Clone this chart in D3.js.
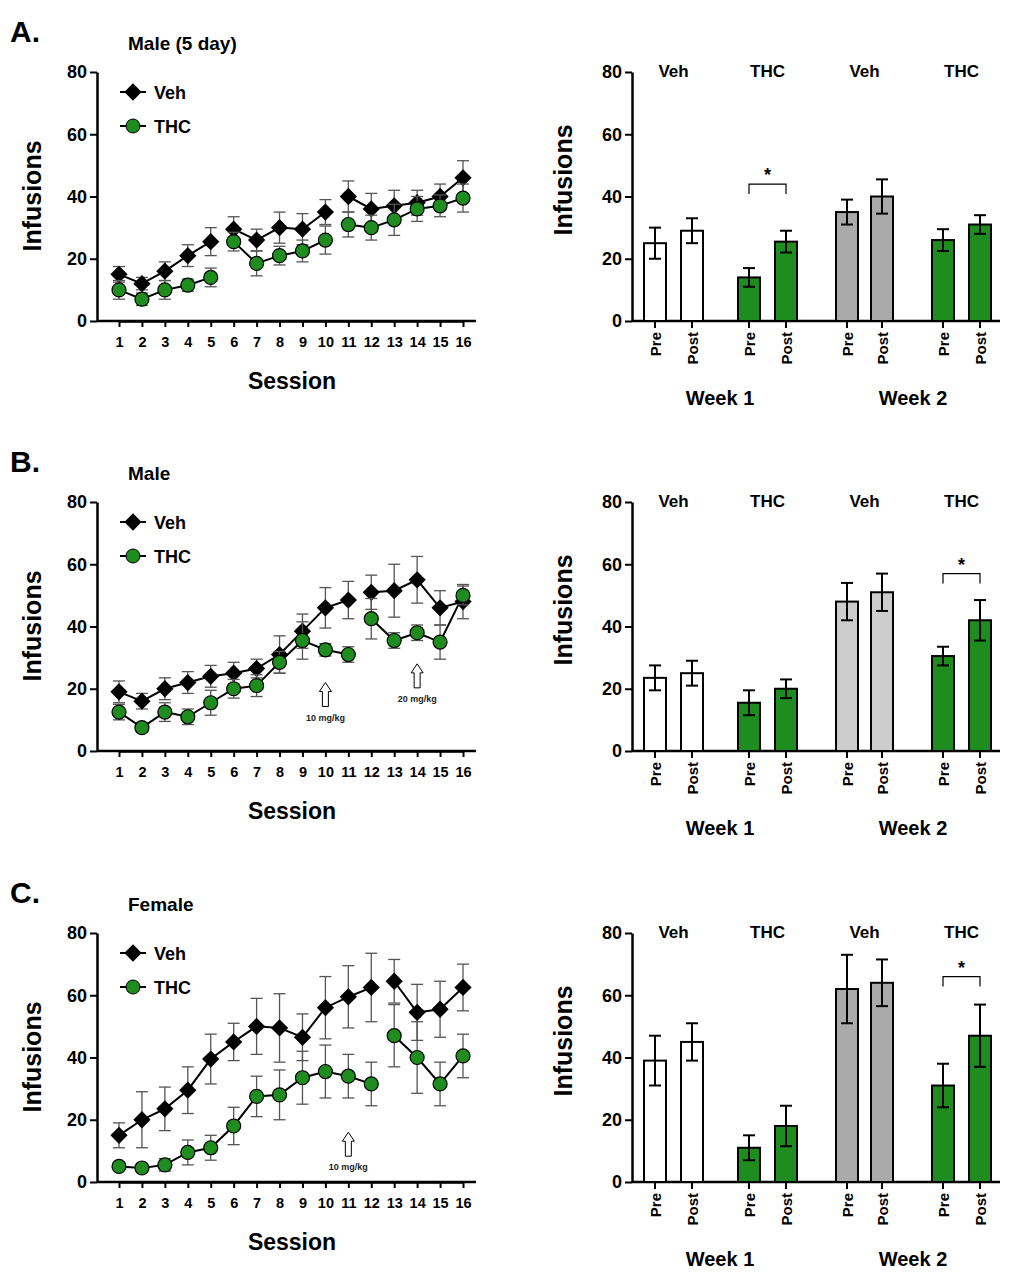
<!DOCTYPE html>
<html><head><meta charset="UTF-8"/>
<script src="https://d3js.org/d3.v7.min.js"></script>
<style>body{margin:0;background:#fff}text{font-family:Arial,"Liberation Sans",sans-serif;font-weight:bold}</style>
</head><body>
<script>
var sessions = d3.range(1, 17);
var yTicks = [0, 20, 40, 60, 80];
var barLabels = ["Pre", "Post", "Pre", "Post", "Pre", "Post", "Pre", "Post"];
var groupLabels = ["Veh", "THC", "Veh", "THC"];
var weekLabels = ["Week 1", "Week 2"];

// panel A (male 5 day)
var vehA = [15,12,16,21,25.5,29.5,26,30,29.5,35,40,36,37,38,40,46];
var vehAErr = [2.5,2,3,3.5,4.5,4,3.5,5,5,4,5,5,5,4,4,5.5];
var thcA = [10,7,10,11.5,14,25.5,18.5,21,22.5,26,31,30,32.5,36,37,39.5];
var thcAErr = [3,2,3,2,3,3,4,3,3.5,4.5,4,4,5,4,3.5,4.5];
var segA = [[1,5],[6,10],[11,16]];
var barA = [25,29,14,25.5,35,40,26,31];
var barAErr = [5,4,3,3.5,4,5.5,3.5,3];

// panel B (male)
var vehB = [19,16,20,22,24,25,26.5,31,38.5,46,48.5,51,51.5,55,46,48];
var vehBErr = [3.5,2.5,3.5,3.5,3.5,3.5,3,6,5.5,6.5,6,5.5,8.5,7.5,5.5,5.5];
var thcB = [12.5,7.5,12.5,11,15.5,20,21,28.5,35.5,32.5,31,42.5,35.5,38,35,50];
var thcBErr = [2.5,1.5,3,2.5,4,3,3.5,3.5,6,2,2.5,6.5,2.5,2.5,5.5,3];
var segB = [[1,11],[12,16]];
var barB = [23.5,25,15.5,20,48,51,30.5,42];
var barBErr = [4,4,4,3,6,6,3,6.5];

// panel C (female)
var vehC = [15,20,23.5,29.5,39.5,45,50,49.5,46.5,56,59.5,62.5,64.5,54.5,55.5,62.5];
var vehCErr = [4,9,7,7.5,8,6,9,11,7.5,10,10,11,7,9,9,7.5];
var thcC = [5,4.5,5.5,9.5,11,18,27.5,28,33.5,35.5,34,31.5,47,40,31.5,40.5];
var thcCErr = [1,1,2,4,4,6,6.5,8,8.5,8.5,7,7,10,11.5,7,7];
var segC = [[1,12],[13,16]];
var barC = [39,45,11,18,62,64,31,47];
var barCErr = [8,6,4,6.5,11,7.5,7,10];

var green = "#1e8c1e";
var svg = d3.select("body").append("svg").attr("width", 1018).attr("height", 1280);

function panel(dy, letter, title, veh, vehErr, thc, thcErr, segs, bars, barErr, grey, sig, arrows) {
  var g = svg.append("g").attr("transform", "translate(0," + dy + ")");
  var y = d3.scaleLinear().domain([0, 80]).range([321, 72]);
  var x = d3.scaleLinear().domain([1, 16]).range([119, 463]);

  g.append("text").attr("x", 10).attr("y", 42).attr("font-size", 30).text(letter);
  g.append("text").attr("x", 128).attr("y", 50).attr("font-size", 19).text(title);

  // left axes
  var ya = g.append("g").attr("transform", "translate(97,0)")
    .call(d3.axisLeft(y).tickValues(yTicks).tickSize(7).tickSizeOuter(0));
  var xa = g.append("g").attr("transform", "translate(0,321)")
    .call(d3.axisBottom(x).tickValues(sessions).tickSize(6).tickSizeOuter(0));
  g.append("line").attr("x1", 97).attr("x2", 476).attr("y1", 321).attr("y2", 321).attr("stroke", "#000").attr("stroke-width", 2.5);
  [ya, xa].forEach(function(a) {
    a.select(".domain").attr("stroke-width", 2.5);
    a.selectAll(".tick line").attr("stroke-width", 2);
  });
  ya.selectAll("text").attr("font-size", 18).attr("font-weight", "bold");
  xa.selectAll("text").attr("font-size", 14.5).attr("font-weight", "bold").attr("dy", "1.2em");
  g.append("text").attr("transform", "translate(41,196) rotate(-90)").attr("text-anchor", "middle").attr("font-size", 25).text("Infusions");
  g.append("text").attr("x", 292).attr("y", 389).attr("text-anchor", "middle").attr("font-size", 23).text("Session");

  function series(vals, errs, color, shape) {
    var line = d3.line().x(function(d) { return x(d); }).y(function(d) { return y(vals[d - 1]); });
    segs.forEach(function(s) {
      g.append("path").attr("d", line(d3.range(s[0], s[1] + 1))).attr("fill", "none").attr("stroke", "#000").attr("stroke-width", 2);
    });
    sessions.forEach(function(s, i) {
      var cx = x(s);
      g.append("line").attr("x1", cx).attr("x2", cx).attr("y1", y(vals[i] - errs[i])).attr("y2", y(vals[i] + errs[i])).attr("stroke", "#555").attr("stroke-width", 1.3);
      [vals[i] - errs[i], vals[i] + errs[i]].forEach(function(v) {
        g.append("line").attr("x1", cx - 6).attr("x2", cx + 6).attr("y1", y(v)).attr("y2", y(v)).attr("stroke", "#555").attr("stroke-width", 1.3);
      });
    });
    sessions.forEach(function(s, i) {
      if (shape == "d") g.append("path").attr("d", d3.symbol(d3.symbolDiamond2, 190)()).attr("transform", "translate(" + x(s) + "," + y(vals[i]) + ")").attr("fill", "#000");
      else g.append("circle").attr("cx", x(s)).attr("cy", y(vals[i])).attr("r", 7).attr("fill", color).attr("stroke", "#000").attr("stroke-width", 1.2);
    });
  }
  series(veh, vehErr, "#000", "d");
  series(thc, thcErr, green, "c");

  // legend
  [["Veh", "d", 92], ["THC", "c", 126]].forEach(function(l) {
    g.append("line").attr("x1", 120).attr("x2", 146).attr("y1", l[2]).attr("y2", l[2]).attr("stroke", "#000").attr("stroke-width", 2);
    if (l[1] == "d") g.append("path").attr("d", d3.symbol(d3.symbolDiamond2, 190)()).attr("transform", "translate(133," + l[2] + ")");
    else g.append("circle").attr("cx", 133).attr("cy", l[2]).attr("r", 7).attr("fill", green).attr("stroke", "#000");
    g.append("text").attr("x", 154).attr("y", l[2] + 7).attr("font-size", 18).text(l[0]);
  });

  arrows.forEach(function(a) {
    var ax = x(a[0]), top = y(a[1]);
    g.append("path").attr("d", "M" + (ax - 3) + "," + (top + 24) + "V" + (top + 9) + "H" + (ax - 6) + "L" + ax + "," + top + "L" + (ax + 6) + "," + (top + 9) + "H" + (ax + 3) + "V" + (top + 24) + "Z")
      .attr("fill", "#fff").attr("stroke", "#000").attr("stroke-width", 1);
    g.append("text").attr("x", ax).attr("y", top + 38).attr("text-anchor", "middle").attr("font-size", 9).attr("fill", "#222").text(a[2]);
  });

  // right bar chart
  var bx = [655, 692, 749, 786, 847, 882, 943, 980];
  var bw = 22;
  var ra = g.append("g").attr("transform", "translate(632,0)")
    .call(d3.axisLeft(y).tickValues(yTicks).tickSize(7).tickSizeOuter(0));
  ra.select(".domain").attr("stroke-width", 2.5);
  ra.selectAll(".tick line").attr("stroke-width", 2);
  ra.selectAll("text").attr("font-size", 18).attr("font-weight", "bold");
  g.append("line").attr("x1", 632).attr("x2", 1000).attr("y1", 321).attr("y2", 321).attr("stroke", "#000").attr("stroke-width", 2.5);
  g.append("text").attr("transform", "translate(572,180) rotate(-90)").attr("text-anchor", "middle").attr("font-size", 25).text("Infusions");
  var fills = ["#fff", "#fff", green, green, grey, grey, green, green];
  bars.forEach(function(v, i) {
    var cx = bx[i];
    g.append("rect").attr("x", cx - bw / 2).attr("y", y(v)).attr("width", bw).attr("height", 321 - y(v)).attr("fill", fills[i]).attr("stroke", "#000").attr("stroke-width", 2);
    g.append("line").attr("x1", cx).attr("x2", cx).attr("y1", y(v - barErr[i])).attr("y2", y(v + barErr[i])).attr("stroke", "#000").attr("stroke-width", 2);
    [v - barErr[i], v + barErr[i]].forEach(function(e) {
      g.append("line").attr("x1", cx - 6).attr("x2", cx + 6).attr("y1", y(e)).attr("y2", y(e)).attr("stroke", "#000").attr("stroke-width", 2);
    });
    g.append("line").attr("x1", cx).attr("x2", cx).attr("y1", 321).attr("y2", 328).attr("stroke", "#000").attr("stroke-width", 2);
    g.append("text").attr("transform", "translate(" + (cx + 6) + ",332) rotate(-90)").attr("text-anchor", "end").attr("font-size", 15).text(barLabels[i]);
  });
  groupLabels.forEach(function(t, i) {
    g.append("text").attr("x", (bx[2 * i] + bx[2 * i + 1]) / 2).attr("y", 77).attr("text-anchor", "middle").attr("font-size", 17).text(t);
  });
  weekLabels.forEach(function(t, i) {
    g.append("text").attr("x", [720, 913][i]).attr("y", 405).attr("text-anchor", "middle").attr("font-size", 20).text(t);
  });
  var s1 = bx[sig[0]], s2 = bx[sig[0] + 1], sy = y(sig[1]);
  g.append("path").attr("d", "M" + s1 + "," + (sy + 10) + "V" + sy + "H" + s2 + "V" + (sy + 10)).attr("fill", "none").attr("stroke", "#000").attr("stroke-width", 1.2);
  g.append("text").attr("x", (s1 + s2) / 2).attr("y", sy - 3).attr("text-anchor", "middle").attr("font-size", 18).text("*");
}

panel(0, "A.", "Male (5 day)", vehA, vehAErr, thcA, thcAErr, segA, barA, barAErr, "#aaaaaa", [2, 44], []);
panel(430, "B.", "Male", vehB, vehBErr, thcB, thcBErr, segB, barB, barBErr, "#cccccc", [6, 57],
  [[10, 22, "10 mg/kg"], [14, 28, "20 mg/kg"]]);
panel(861, "C.", "Female", vehC, vehCErr, thcC, thcCErr, segC, barC, barCErr, "#aaaaaa", [6, 66],
  [[11, 16, "10 mg/kg"]]);
</script>
</body></html>
